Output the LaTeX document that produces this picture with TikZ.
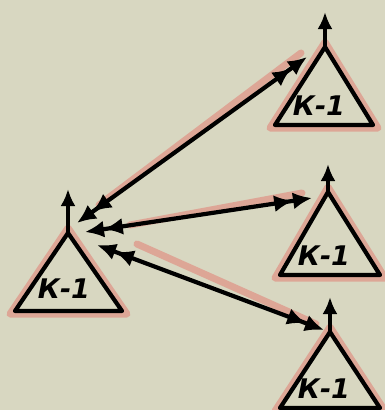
\documentclass[tikz,border=0pt]{standalone}
\usepackage{fontspec}
\newfontfamily\hand{DejaVu Sans}
\usetikzlibrary{arrows.meta,calc}
\definecolor{paper}{RGB}{216,215,193}
\definecolor{pencil}{RGB}{226,118,108}
\tikzset{
 ink/.style={line width=4.2pt, black, line join=round},
 glow/.style={line width=7pt, pencil, opacity=0.5, line cap=round, line join=round},
 dblarrow/.style={ink, arrows={Latex[length=19pt,width=17pt] Latex[length=19pt,width=17pt]-Latex[length=19pt,width=17pt] Latex[length=19pt,width=17pt]}},
 uparrow/.style={ink, -{Latex[length=17pt,width=15pt]}},
 lbl/.style={font=\hand\bfseries\itshape\fontsize{27}{27}\selectfont, inner sep=0pt},
}
% name, apex x, apex y, base y, left x, right x, arrow top y, text x, text y
\newcommand\ktri[9]{%
 \coordinate (#1-a) at (#2,#3);
 \coordinate (#1-l) at (#5,#4);
 \coordinate (#1-r) at (#6,#4);
 \coordinate (#1-t) at (#2,#7);
 \draw[glow] (#2,{#3-5}) -- ({#5-5},{#4+3}) -- ({#6+5},{#4+3}) -- cycle;
 \filldraw[ink, fill=paper] (#1-a) -- (#1-l) -- (#1-r) -- cycle;
 \draw[uparrow] (#1-a) -- (#1-t);
 \node[lbl] (#1) at (#8,#9) {К-1};
}
\begin{document}
\begin{tikzpicture}[x=1pt,y=-1pt]
\fill[paper] (0,0) rectangle (385,410);
\useasboundingbox (0,0) rectangle (385,410);
% connector glows
\coordinate (e1l) at (77,223);
\coordinate (e1t) at (307,57);
\coordinate (e2l) at (85,232);
\coordinate (e2m) at (312,198);
\coordinate (e3l) at (97,245);
\coordinate (e3b) at (324,330);
\draw[glow] ($(e1l)+(22,-18)$) -- ($(e1t)+(-6,-4)$);
\draw[glow] ($(e2l)+(45,-7)$) -- ($(e2m)+(-10,-5)$);
\draw[glow] ($(e3l)+(40,-1)$) -- ($(e3b)+(-8,-6)$);
\ktri{L}{68}{233}{311}{15}{122}{189}{64}{289}
\ktri{T}{325}{47}{125}{275}{373}{12}{319}{106}
\ktri{M}{328}{192}{275}{280}{380}{164}{324}{256}
\ktri{B}{330}{332}{408}{280}{380}{297}{324}{389}
\draw[dblarrow] (e1l) -- (e1t);
\draw[dblarrow] (e2l) -- (e2m);
\draw[dblarrow] (e3l) -- (e3b);
\end{tikzpicture}
\end{document}
